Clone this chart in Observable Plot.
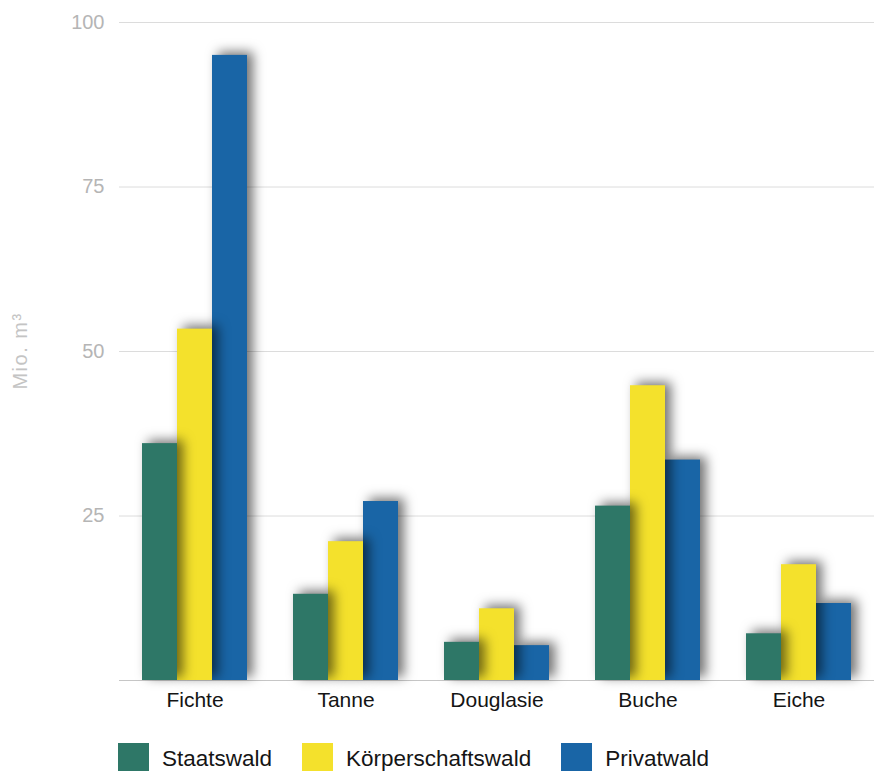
<!DOCTYPE html>
<html>
<head>
<meta charset="utf-8">
<script src="https://cdn.jsdelivr.net/npm/d3@7"></script>
<script src="https://cdn.jsdelivr.net/npm/@observablehq/plot@0.6"></script>
<style>
  body { margin: 0; background: #fff; font-family: "Liberation Sans", Arial, Helvetica, sans-serif; }
  #chart svg { display: block; }
  g[aria-label="y-axis tick label"] { fill: #b5b5b5; font-size: 20px; }
  g[aria-label="fx-axis tick label"] { fill: #141414; font-size: 21px; }
  #legend { display: flex; align-items: center; margin: 23px 0 0 118px; }
  #legend .item { display: flex; align-items: center; margin-right: 30px; }
  #legend .swatch { width: 31px; height: 31px; margin-right: 13px; }
  #legend .name { font-size: 22.5px; color: #151515; }
</style>
</head>
<body>
<div id="chart"></div>
<div id="legend"></div>
<script>
// Holzvorrat nach Baumart und Eigentumsart (Mio. m³)
const species = ["Fichte", "Tanne", "Douglasie", "Buche", "Eiche"];
const owners = ["Staatswald", "Körperschaftswald", "Privatwald"];
const ownerColors = ["#2e7767", "#f4e12c", "#1965a6"];

const staatswald = [36, 13.1, 5.8, 26.5, 7.1];
const koerperschaftswald = [53.4, 21.1, 10.9, 44.8, 17.6];
const privatwald = [95, 27.2, 5.3, 33.5, 11.7];

const yTicks = [25, 50, 75, 100];
const gridLines = [25, 50, 75, 100];
const yLabel = "Mio. m³";

const seriesByOwner = [staatswald, koerperschaftswald, privatwald];
const rows = owners.flatMap((owner, i) =>
  species.map((s, j) => ({ species: s, owner, value: seriesByOwner[i][j] }))
);

// Bars are layered right-to-left so each bar's shadow falls on its right neighbour
const barMarks = owners.slice().reverse().map(owner =>
  Plot.barY(rows.filter(d => d.owner === owner), {
    fx: "species", x: "owner", y: "value", fill: "owner"
  })
);

const chart = Plot.plot({
  width: 874,
  height: 720,
  marginLeft: 118,
  marginRight: 0,
  marginTop: 22,
  marginBottom: 40,
  style: { fontFamily: '"Liberation Sans", Arial, Helvetica, sans-serif', background: "#fff" },
  fx: { domain: species, padding: 0, label: null, tickSize: 0, tickPadding: 12 },
  x: { domain: owners, paddingInner: 0, paddingOuter: 0.64, axis: null },
  y: { domain: [0, 100], ticks: yTicks, tickSize: 0, tickPadding: 15, label: null },
  color: { domain: owners, range: ownerColors },
  marks: [
    Plot.ruleY(gridLines, { stroke: "#dcdcdc", strokeWidth: 1 }),
    Plot.ruleY([0], { stroke: "#c6c6c6", strokeWidth: 1.2 }),
    ...barMarks
  ]
});
document.getElementById("chart").append(chart);

// Soft drop shadow on every bar group
d3.select(chart).selectAll('g[aria-label="bar"]')
  .style("filter", "drop-shadow(6px -3px 6px rgba(0,0,0,0.55))");

// Vertical unit label beside the y axis, centred on the plot's y range
const yScale = chart.scale("y");
const yMid = (yScale.range[0] + yScale.range[1]) / 2;
d3.select(chart).append("text")
  .attr("text-anchor", "middle")
  .attr("transform", `translate(27,${yMid}) rotate(-90)`)
  .style("font-size", "20px")
  .style("letter-spacing", "1.5px")
  .style("fill", "#c4c4c4")
  .text(yLabel);

// Legend
const legend = d3.select("#legend");
owners.forEach((owner, i) => {
  const item = legend.append("div").attr("class", "item");
  item.append("div").attr("class", "swatch").style("background", ownerColors[i]);
  item.append("div").attr("class", "name").text(owner);
});
</script>
</body>
</html>
